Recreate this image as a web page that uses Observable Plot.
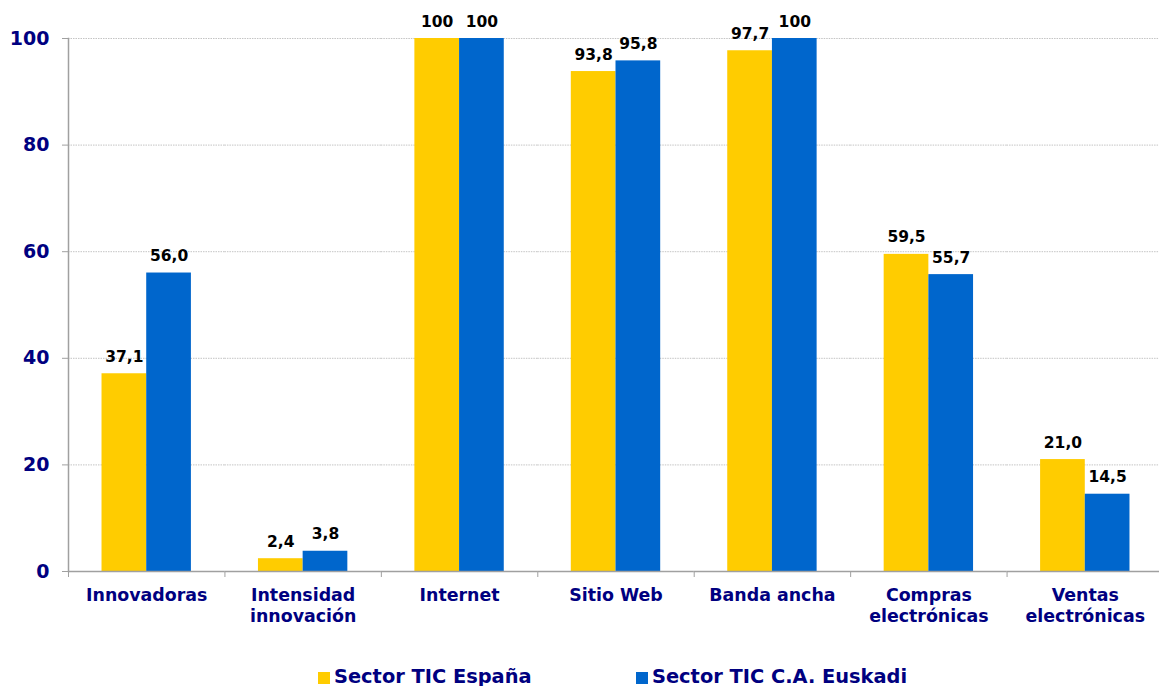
<!DOCTYPE html>
<html>
<head>
<meta charset="utf-8">
<script src="https://cdn.jsdelivr.net/npm/d3@7"></script>
<script src="https://cdn.jsdelivr.net/npm/@observablehq/plot@0.6"></script>
<style>
  html, body { margin: 0; padding: 0; background: white; }
  body { width: 1159px; height: 686px; overflow: hidden; font-family: "DejaVu Sans", Verdana, sans-serif; }
  #chart { width: 1159px; overflow: hidden; }
  #legend { position: relative; height: 34px; font-weight: bold; font-size: 19.4px; color: #000080; }
  .item { position: absolute; top: 13px; display: flex; align-items: center; white-space: nowrap; }
  .sw { width: 12px; height: 12px; margin-right: 4px; margin-top: 3px; }
</style>
</head>
<body>
<div id="chart"></div>
<div id="legend"></div>
<script>
const categories = ["Innovadoras", "Intensidad\ninnovación", "Internet", "Sitio Web", "Banda ancha", "Compras\nelectrónicas", "Ventas\nelectrónicas"];
const seriesNames = ["Sector TIC España", "Sector TIC C.A. Euskadi"];
const espana = [37.1, 2.4, 100, 93.8, 97.7, 59.5, 21.0];
const euskadi = [56.0, 3.8, 100, 95.8, 100, 55.7, 14.5];
const yTicks = [0, 20, 40, 60, 80, 100];
const colors = ["#FFCC00", "#0066CC"];

const data = [];
categories.forEach((c, i) => {
  data.push({cat: c, series: seriesNames[0], value: espana[i]});
  data.push({cat: c, series: seriesNames[1], value: euskadi[i]});
});
const fmt = v => v === 100 ? "100" : v.toFixed(1).replace(".", ",");

const W = 1159, ML = 68, MR = -4;
const band = (W - ML - MR) / categories.length;

const chart = Plot.plot({
  width: W,
  height: 652,
  marginTop: 38,
  marginBottom: 81,
  marginLeft: ML,
  marginRight: MR,
  style: {fontFamily: "DejaVu Sans", fontWeight: "bold", background: "white", overflow: "hidden"},
  fx: {domain: categories, padding: 0, round: false, label: null},
  x: {domain: seriesNames, paddingInner: 0, paddingOuter: 0.75, round: false, axis: null},
  y: {domain: [0, 100], label: null},
  color: {domain: seriesNames, range: colors},
  marks: [
    Plot.ruleY(yTicks.filter(t => t > 0), {stroke: "#c4c4c4", strokeDasharray: "1.5,1"}),
    Plot.barY(data, {fx: "cat", x: "series", y: "value", fill: "series"}),
    Plot.ruleY([0], {stroke: "#a0a0a0", strokeWidth: 1.5}),
    Plot.frame({anchor: "left", stroke: "#a0a0a0", strokeWidth: 1.5, facetAnchor: "left"}),
    Plot.axisY(yTicks, {tickSize: 6, tickPadding: 13, stroke: "#a0a0a0", fill: "#000080", fontSize: 19, label: null}),
    Plot.axisFx({anchor: "bottom", tickSize: 6, stroke: "#a0a0a0", fill: "none", dx: -band / 2, label: null}),
    Plot.axisFx({anchor: "bottom", tickSize: 0, tickPadding: 15, fill: "#000080", fontSize: 17.4, lineHeight: 1.2, label: null}),
    Plot.text(data, {fx: "cat", x: "series", y: "value", text: d => fmt(d.value), dy: -12, lineAnchor: "bottom", fontSize: 15.5, fill: "black"})
  ]
});
document.getElementById("chart").appendChild(chart);

const legend = document.getElementById("legend");
const lefts = [318, 636];
seriesNames.forEach((s, i) => {
  const it = document.createElement("div");
  it.className = "item";
  it.style.left = lefts[i] + "px";
  it.innerHTML = `<div class="sw" style="background:${colors[i]}"></div><span>${s}</span>`;
  legend.appendChild(it);
});
</script>
</body>
</html>
